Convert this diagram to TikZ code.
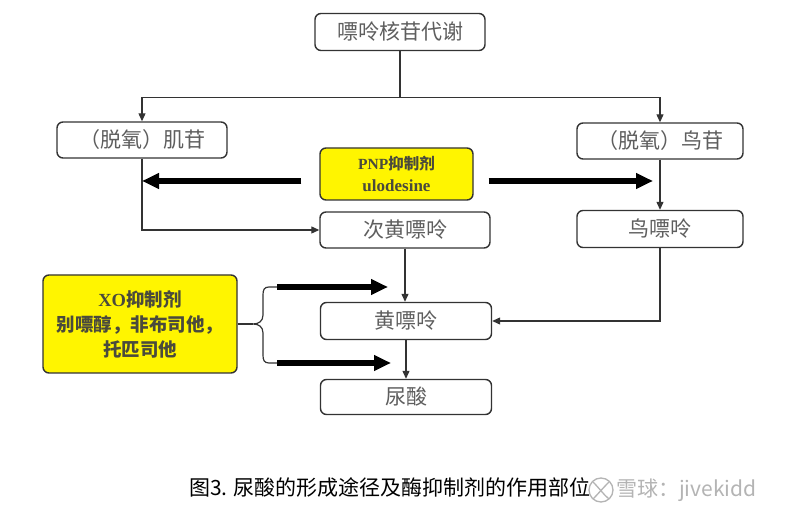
\documentclass[tikz,border=0pt]{standalone}
\usepackage{fontspec}
\setmainfont{Noto Sans CJK SC}
\newfontfamily\serifb{Liberation Serif}
\usetikzlibrary{arrows.meta,calc}
\definecolor{boxtext}{HTML}{5E5E5E}
\definecolor{edge}{HTML}{333333}
\definecolor{yel}{HTML}{FFF500}
\definecolor{yeltext}{HTML}{4A4A3C}
\definecolor{wm}{HTML}{B4B4B4}
\tikzset{
  box/.style={draw=edge, line width=1.4pt, rounded corners=6pt, fill=white,
    text=boxtext, font=\fontsize{21}{24}\selectfont, inner sep=0pt},
  ybox/.style={draw=edge, line width=1.4pt, rounded corners=6pt, fill=yel,
    text=yeltext, inner sep=0pt, align=center},
  conn/.style={draw=edge, line width=1.2pt},
  arr/.style={conn, -{Triangle[length=8pt,width=7pt]}},
  thk/.style={draw=black, line width=5.5pt, -{Triangle[length=17pt,width=15pt]}},
}
\begin{document}
\begin{tikzpicture}[x=1pt,y=-1pt]
\useasboundingbox (0,0) rectangle (785,518);
\fill[white] (0,0) rectangle (785,518);

% boxes
\node[box, minimum width=170pt, minimum height=37pt] (top) at (400,32) {嘌呤核苷代谢};
\node[box, minimum width=170pt, minimum height=36pt] (dI) at (142,140) {（脱氧）肌苷};
\node[box, minimum width=166pt, minimum height=36pt] (dG) at (660,141) {（脱氧）鸟苷};
\node[ybox, minimum width=153pt, minimum height=52pt,
      font=\fontsize{15.5}{22}\selectfont] (pnp) at (396.5,174)
      {{\serifb\bfseries PNP}\textbf{抑制剂}\\{\serifb\bfseries\fontsize{17}{22}\selectfont ulodesine}};
\node[box, minimum width=170pt, minimum height=36pt] (hx) at (405,230) {次黄嘌呤};
\node[box, minimum width=166pt, minimum height=37pt] (gu) at (660,229) {鸟嘌呤};
\node[box, minimum width=171pt, minimum height=37pt] (xa) at (406,321) {黄嘌呤};
\node[box, minimum width=171pt, minimum height=35pt] (ua) at (406,397) {尿酸};
\node[ybox, minimum width=194pt, minimum height=98pt,
      font=\fontsize{18.5}{25}\selectfont] (xo) at (140,324)
      {{\serifb\bfseries XO}\textbf{抑制剂}\\\textbf{别嘌醇，非布司他，}\\\textbf{托匹司他}};

% top split
\coordinate (j) at ($(top.south)+(0,46)$);
\draw[conn] (top.south) -- (j);
\draw[conn] (dI.north |- j) -- (dG.north |- j);
\draw[arr] (dI.north |- j) -- (dI.north);
\draw[arr] (dG.north |- j) -- (dG.north);

% pathways
\draw[arr] (dI.south) |- (hx.west);
\draw[arr] (dG.south) -- (gu.north);
\draw[arr] (gu.south) |- (xa.east);
\draw[arr] (hx.south) -- (hx.south |- xa.north);
\draw[arr] (xa.south) -- (xa.south |- ua.north);

% PNP inhibitor arrows
\coordinate (pl) at ($(pnp.west)+(-18,7)$);
\coordinate (pr) at ($(pnp.east)+(15,7)$);
\draw[thk] (pl) -- (pl -| dI.south);
\draw[thk] (pr) -- ($(pr -| dG.south)+(-7,0)$);

% XO inhibitor brace and arrows
\coordinate (b1) at (277,287);
\coordinate (b2) at (277,363);
\coordinate (bt) at (253,324);
\draw[thk] (b1) -- ($(b1 -| xa.north)+(-18,0)$);
\draw[thk] (b2) -- ($(b2 -| xa.north)+(-15,0)$);
\draw[conn] (xo.east) -- (bt);
\draw[conn] (b1) -- (269,287) .. controls (264,287) and (263,290) .. (263,295)
  -- (263,315) .. controls (263,321) and (259,324) .. (bt)
  .. controls (259,324) and (263,327) .. (263,333)
  -- (263,355) .. controls (263,360) and (264,363) .. (269,363) -- (b2);

% caption
\node[anchor=west, inner sep=0pt, font=\fontsize{21}{24}\selectfont] (cap) at (189,487)
  {图3. 尿酸的形成途径及酶抑制剂的作用部位};

% watermark
\draw[wm, line width=1.3pt] (601,490) circle (12pt);
\draw[wm, line width=1.3pt] (593,482) .. controls (600,489) and (603,494) .. (609,499);
\draw[wm, line width=1.3pt] (609,482) .. controls (602,489) and (598,494) .. (593,499);
\node[anchor=west, inner sep=0pt, text=wm, font=\fontsize{21}{24}\selectfont] (wmk) at (616,490)
  {雪球：jivekidd};
\end{tikzpicture}
\end{document}
